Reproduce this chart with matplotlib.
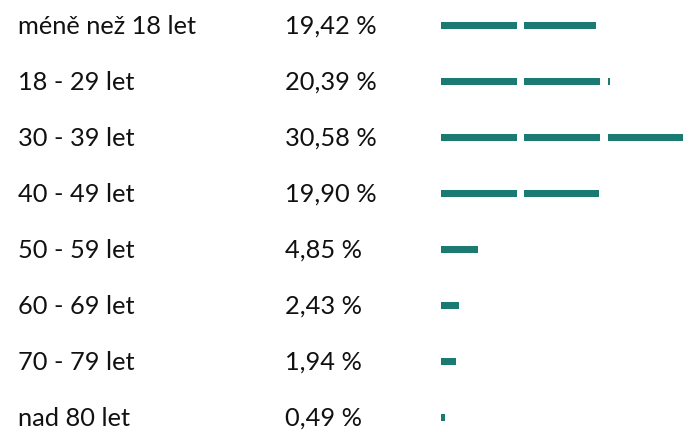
import numpy as np
import matplotlib
matplotlib.use("Agg")
import matplotlib.pyplot as plt

categories = ["méně než 18 let", "18 - 29 let", "30 - 39 let", "40 - 49 let",
              "50 - 59 let", "60 - 69 let", "70 - 79 let", "nad 80 let"]
values = [19.42, 20.39, 30.58, 19.90, 4.85, 2.43, 1.94, 0.49]
value_labels = ["19,42 %", "20,39 %", "30,58 %", "19,90 %", "4,85 %", "2,43 %", "1,94 %", "0,49 %"]

COLOR = "#1b7b73"
SEG = 10.0   # percent per segment
GAP = 1.0    # gap between segments (in percent units)

fig = plt.figure(figsize=(6.9, 4.32), dpi=100)
ax = fig.add_axes([0, 0, 1, 1])
px_per_unit = 7.57
x0 = 441
ax.set_xlim(-x0 / px_per_unit, (690 - x0) / px_per_unit)
ax.set_ylim((432 - 25.5) / 56, -25.5 / 56)
ax.axis("off")

bar_h = 7.5 / 56
for i, v in enumerate(values):
    k = 0
    rem = v
    while rem > 0:
        w = min(SEG, rem)
        ax.barh(i, w, left=k * (SEG + GAP), height=bar_h, color=COLOR, linewidth=0)
        rem -= w
        k += 1

font = dict(family=["Lato", "DejaVu Sans"], fontsize=18.3, color="#111111")
for i, (c, lab) in enumerate(zip(categories, value_labels)):
    ax.text(18 / 690, i + 8.5 / 56, c, transform=ax.get_yaxis_transform(), ha="left", va="baseline", **font)
    ax.text(285 / 690, i + 8.5 / 56, lab, transform=ax.get_yaxis_transform(), ha="left", va="baseline", **font)

fig.savefig("out.png", dpi=100)
